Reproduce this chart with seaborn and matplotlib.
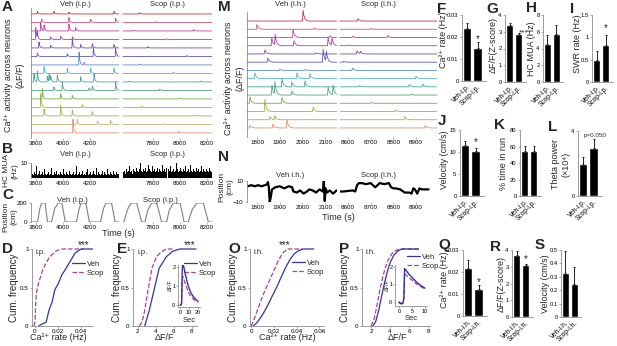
import numpy as np
import matplotlib
matplotlib.use('Agg')
import matplotlib.pyplot as plt
import seaborn as sns

sns.set_theme(style='white')
plt.rcParams['font.family'] = ['Liberation Sans', 'DejaVu Sans']

# ---------------- data ----------------
trace_colors = ['#c8323c', '#d0506e', '#c040a0', '#a444b0', '#7c4aa8', '#5c58b8', '#5a8ad0',
                '#50b0d8', '#40a8a0', '#4fa878', '#6cb050', '#94b840', '#a8b050', '#c4b070', '#e09070']

# (time s, amplitude in trace spacings) for each neuron
a_veh_events = [
    [(3810, 0.3), (3933, 0.3), (4044, 0.2), (4378, 0.3)],
    [(3842, 0.4), (4044, 0.6), (4205, 0.4), (4390, 0.5)],
    [(3835, 1.0), (3860, 0.7), (4044, 0.8), (4094, 0.4)],
    [(3798, 1.4), (3810, 0.8), (3909, 0.3), (3983, 0.4), (4069, 0.3)],
    [(3822, 0.7), (3909, 0.3), (4069, 1.0), (4131, 0.4), (4217, 0.5), (4378, 0.4)],
    [(3810, 0.4), (4032, 0.3), (4225, 1.0), (4390, 1.0)],
    [(4119, 1.5), (4156, 0.3)],
    [(3860, 0.8), (4032, 0.6), (4205, 0.6), (4378, 0.6)],
    [(3785, 1.0), (3810, 1.3), (3884, 0.7), (3897, 0.8), (3909, 0.6), (3958, 0.8), (4131, 0.6), (4230, 1.0)],
    [(3933, 0.4), (3995, 1.0), (4193, 0.3), (4217, 0.5), (4390, 1.0)],
    [(3847, 1.2), (3983, 0.6), (4069, 0.4)],
    [(3835, 1.6), (4143, 0.3)],
    [(3860, 0.8), (3983, 1.2), (4069, 0.7), (4217, 0.5)],
    [(4106, 0.6), (4255, 0.4), (4353, 0.5)],
    [(4074, 1.6)],
]
a_scop_events = [
    [(7700, 0.15)], [(7820, 0.1)], [(7650, 0.1), (8100, 0.15)], [(7900, 0.1)],
    [(7760, 0.15)], [(8050, 0.1)], [(7700, 0.1)], [(7950, 0.15)], [(7620, 0.1), (8150, 0.1)],
    [(7850, 0.15)], [(8000, 0.1)], [(7720, 0.15)], [(8120, 0.1)], [(7880, 0.1)], [(7990, 0.15)],
]
m_veh_events = [
    [(2003, 1.3)],
    [(1800, 0.6), (2050, 0.15)],
    [(1959, 1.0), (2120, 0.2)],
    [(1865, 1.0), (1880, 1.3), (1963, 0.6), (2113, 1.0), (2130, 0.9)],
    [(1835, 0.5), (2060, 0.15)],
    [(1848, 0.5), (2091, 1.6), (2105, 1.2)],
    [(1900, 0.15), (2010, 0.1)],
    [(1791, 0.7), (1976, 0.7), (2033, 0.6)],
    [(1910, 1.0), (1954, 0.6), (2011, 0.7)],
    [(1866, 1.2), (1879, 1.5), (1954, 0.5), (2113, 1.0), (2135, 1.2)],
    [(1769, 0.8), (1910, 0.7)],
    [(1835, 1.5), (2047, 0.5)],
    [(1857, 0.4), (1879, 0.5)],
    [(1769, 0.3), (1870, 0.5), (1932, 1.0)],
]
m_scop_events = [
    [(8644, 0.3)], [(8700, 0.1)], [(8620, 0.15), (8775, 0.25)], [(8600, 0.1)],
    [(8640, 0.4), (8655, 0.3)], [(8580, 0.1)], [(8620, 0.3)], [(8900, 0.3)],
    [(8650, 0.15), (8870, 0.3), (8930, 0.35)], [(8880, 0.1)], [(8700, 0.1)],
    [(8810, 0.2)], [(8850, 0.4)], [(8940, 0.3)],
]

# HC MUA (Hz)
mua_veh = [9, 3, 2, 4, 3, 8, 2, 3, 5, 2, 3, 4, 2, 6, 3, 2, 3, 4, 2, 3, 7, 2, 3, 2, 4, 3, 5, 2, 3, 2,
           4, 3, 2, 6, 3, 2, 4, 3, 2, 5, 3, 2, 3, 4, 2, 3, 8, 2, 3, 4, 2, 3, 5, 2, 3, 2, 4, 6, 2, 3,
           4, 2, 3, 5, 3, 2, 7, 3, 2, 4, 3, 2, 3, 5, 2, 4, 3, 2, 6, 3, 2, 4, 3, 2, 5, 3, 2, 4, 3, 3]
mua_scop = [4, 5, 3, 6, 4, 5, 8, 4, 5, 3, 6, 5, 4, 7, 5, 4, 6, 10, 5, 4, 6, 5, 7, 4, 5, 9, 6, 5, 4, 8,
            5, 6, 4, 5, 7, 4, 6, 5, 4, 9, 5, 6, 4, 7, 5, 4, 6, 5, 8, 4, 5, 6, 4, 5, 10, 6, 4, 5, 7, 5,
            4, 6, 5, 8, 4, 5, 6, 4, 9, 5, 4, 6, 5, 4, 7, 5, 6, 4, 5, 8, 4, 6, 5, 4, 6, 5, 4, 7, 5, 4]

# position on track (cm)
c_veh_t = [3763, 3800, 3812, 3828, 3842, 3868, 3885, 3915, 3940, 3948, 3965, 3992, 4017,
           4100, 4118, 4134, 4170, 4195, 4278, 4300, 4318, 4360, 4386, 4415]
c_veh_v = [0, 0, 0, 140, 200, 200, 0, 0, 150, 160, 200, 200, 0,
           0, 130, 200, 200, 0, 0, 140, 200, 200, 0, 0]
c_scop_t = [7578, 7585, 7600, 7620, 7642, 7679, 7700, 7716, 7741, 7760, 7790, 7827, 7850, 7864,
            7901, 7920, 7950, 8000, 8018, 8030, 8061, 8090, 8124, 8173, 8195, 8210, 8237]
c_scop_v = [0, 0, 80, 160, 200, 200, 90, 0, 0, 120, 200, 200, 80, 0,
            0, 120, 200, 200, 90, 0, 0, 130, 200, 200, 80, 0, 0]

# position (i.h. session)
n_veh_t = [1752, 1760, 1775, 1790, 1805, 1820, 1835, 1845, 1848, 1852, 1856, 1860, 1866, 1880, 1900,
           1920, 1940, 1955, 1960, 1975, 1990, 2005, 2020, 2030, 2045, 2060, 2075, 2090, 2094, 2098,
           2102, 2108, 2120, 2135, 2150]
n_veh_v = [6, 5, 6, 5, 6, 5, 6, 7, 9, 4, -10, -6, 2, 4, 5, 3, 5, 4, 0, -1, 1, -2, 0, 2, 1, -1, 2, 0,
           10, -9, 3, -1, 1, -2, 1]
n_scop_t = [8566, 8580, 8600, 8620, 8632, 8640, 8648, 8660, 8680, 8700, 8720, 8740, 8760, 8780,
            8790, 8800, 8810, 8830, 8850, 8870, 8880, 8888, 8895, 8905, 8915, 8925, 8940, 8955]
n_scop_v = [0, 0, 0.5, 1, 0, 6, 8, 8, 7, 8, 4, 8, 7, 8, 4, 3, 3, 2, -1, -1, -2, 3, 2, -2, 3, 2, 2, 2]

# cumulative distributions
d_veh_x = [0.0033, 0.0054, 0.0097, 0.0121, 0.015, 0.0172, 0.0202, 0.0232, 0.0262, 0.0306, 0.035, 0.040, 0.050]
d_veh_y = [0, 0.02, 0.05, 0.2, 0.32, 0.47, 0.55, 0.66, 0.73, 0.84, 0.95, 1.0, 1.0]
d_scop_x = [-0.001, 0, 0.0005, 0.001, 0.002, 0.004, 0.0065, 0.009, 0.012, 0.015, 0.018, 0.021, 0.024, 0.042]
d_scop_y = [0, 0.05, 0.25, 0.4, 0.5, 0.6, 0.72, 0.8, 0.88, 0.93, 0.97, 0.99, 1.0, 1.0]

e_veh_x = [2.8, 3.3, 3.9, 4.4, 5.2, 5.9, 6.7, 8.5]
e_veh_y = [0, 0.2, 0.5, 0.75, 0.9, 0.97, 1.0, 1.0]
e_scop_x = [2.2, 2.5, 2.8, 3.0, 3.3, 3.6, 4.1, 4.6, 5.2, 6.0]
e_scop_y = [0, 0.05, 0.2, 0.35, 0.55, 0.75, 0.9, 0.96, 1.0, 1.0]
ins_e_t = [0, 1, 1.8, 2.5, 3, 4, 6, 8, 10, 12, 14, 16, 18, 20]
ins_e_veh = [0, 0, 0.1, 1.8, 2.2, 2.05, 1.6, 1.2, 0.9, 0.65, 0.5, 0.38, 0.28, 0.2]
ins_e_scop = [0, 0, 0.1, 1.3, 1.5, 1.4, 1.1, 0.85, 0.6, 0.45, 0.35, 0.27, 0.2, 0.15]

o_veh_x = [0.002, 0.005, 0.008, 0.011, 0.014, 0.017, 0.020, 0.023, 0.026, 0.030, 0.034, 0.038, 0.042, 0.046, 0.055]
o_veh_y = [0, 0.04, 0.1, 0.17, 0.25, 0.34, 0.43, 0.52, 0.62, 0.75, 0.86, 0.94, 0.98, 1.0, 1.0]
o_scop_x = [0, 0.002, 0.005, 0.008, 0.011, 0.014, 0.017, 0.020, 0.024, 0.028, 0.032, 0.045]
o_scop_y = [0, 0.06, 0.18, 0.3, 0.42, 0.52, 0.62, 0.72, 0.85, 0.95, 1.0, 1.0]

p_veh_x = [2.2, 2.5, 2.8, 3.1, 3.4, 3.7, 4.0, 4.4, 4.8, 5.2, 7.0]
p_veh_y = [0, 0.06, 0.2, 0.38, 0.55, 0.7, 0.82, 0.92, 0.97, 1.0, 1.0]
p_scop_x = [2.0, 2.3, 2.6, 2.9, 3.2, 3.5, 3.8, 4.2, 4.6, 5.0, 7.0]
p_scop_y = [0, 0.08, 0.25, 0.45, 0.62, 0.76, 0.86, 0.94, 0.98, 1.0, 1.0]
ins_p_t = [0, 0.5, 1, 1.5, 1.9, 2.2, 3, 4, 5, 6, 7, 8, 9, 10]
ins_p_veh = [0, -0.1, -0.1, -0.1, 0.2, 1.9, 1.75, 1.55, 1.4, 1.25, 1.1, 0.98, 0.88, 0.78]
ins_p_scop = [0, -0.05, -0.05, -0.05, 0.2, 1.6, 1.5, 1.35, 1.25, 1.12, 1.0, 0.9, 0.82, 0.75]

# bar summaries: mean, sem
ip_labels = ['Veh-i.p.', 'Scop-i.p.']
ih_labels = ['Veh-i.h.', 'Scop-i.h.']
f_mean, f_err = [0.024, 0.0148], [0.0022, 0.0028]
g_mean, g_err = [3.38, 2.88], [0.12, 0.06]
h_mean, h_err = [4.5, 5.7], [1.1, 1.1]
i_mean, i_err = [0.5, 0.83], [0.19, 0.23]
j_mean, j_err = [11.6, 10.2], [0.9, 0.8]
k_mean, k_err = [54, 54], [7, 7]
l_mean, l_err = [2.0, 2.95], [0.4, 0.55]
q_mean, q_err = [0.022, 0.0125], [0.0035, 0.0015]
r_mean, r_err = [3.72, 3.08], [0.25, 0.08]
s_mean, s_err = [0.33, 0.245], [0.16, 0.13]

VEH_C = '#34349a'
SCOP_C = '#b03c9c'
GREY = '#8c8c8c'

# ---------------- figure ----------------
W, H = 617, 346
fig = plt.figure(figsize=(W / 100, H / 100), dpi=100)


def px_axes(x, y, w, h):
    return fig.add_axes([x / W, 1 - (y + h) / H, w / W, h / H])


def px_text(x, y, s, **kw):
    kw.setdefault('ha', 'center')
    kw.setdefault('va', 'center')
    fig.text(x / W, 1 - y / H, s, **kw)


def style(ax, left=True, bottom=True, ls=4.5):
    ax.set_facecolor('none')
    for s in ['top', 'right']:
        ax.spines[s].set_visible(False)
    ax.spines['left'].set_visible(left)
    ax.spines['bottom'].set_visible(bottom)
    for s in ['left', 'bottom']:
        ax.spines[s].set_color(GREY)
        ax.spines[s].set_linewidth(0.6)
    ax.tick_params(length=1.5, width=0.5, pad=1, labelsize=ls, colors=GREY, labelcolor='black',
                   left=left, bottom=True)
    ax.set_xlabel('')
    ax.set_ylabel('')


kern_t = [-3, 0, 3, 8, 15, 25]
kern_v = [0, 1, 0.55, 0.25, 0.08, 0]


def traces(ax, t0, t1, events, colors):
    grid = np.arange(t0, t1, 1.0)
    for i, ev in enumerate(events):
        y = np.zeros_like(grid)
        for te, a in ev:
            y = y + a * np.interp(grid - te, kern_t, kern_v, left=0, right=0)
        ax.plot(grid, y - i, color=colors[i], lw=0.6, clip_on=False)


# ---- A ----
for (x0, w, t0, t1, ev, ticks) in [(31, 88, 3763, 4415, a_veh_events, [3800, 4000, 4200]),
                                   (123, 89, 7578, 8237, a_scop_events, [7800, 8000, 8200])]:
    ax = px_axes(x0, 8, w, 130)
    traces(ax, t0, t1, ev, trace_colors)
    ax.set_xlim(t0, t1)
    ax.set_ylim(-14.6, 0.7)
    style(ax, left=(x0 == 31), bottom=False)
    ax.set_yticks([])
    ax.set_xticks(ticks)
px_text(75, 5, 'Veh (i.p.)', fontsize=5.5)
px_text(167, 5, 'Scop (i.p.)', fontsize=5.5)
px_text(14, 75, 'Ca²⁺ activity across neurons\n(ΔF/F)', fontsize=6.5, rotation=90, linespacing=1.3)

# ---- M ----
m_colors = [trace_colors[i] for i in [0, 1, 2, 3, 4, 5, 6, 7, 8, 9, 10, 11, 12, 14]]
for (x0, w, t0, t1, ev, ticks) in [(247, 90, 1756, 2152, m_veh_events, [1800, 1900, 2000, 2100]),
                                   (340, 97, 8565, 8992, m_scop_events, [8600, 8700, 8800, 8900])]:
    ax = px_axes(x0, 12, w, 125)
    traces(ax, t0, t1, ev, m_colors)
    ax.set_xlim(t0, t1)
    ax.set_ylim(-14.1, 1.1)
    style(ax, left=(x0 == 247), bottom=False)
    ax.set_yticks([])
    ax.set_xticks(ticks)
px_text(290, 5, 'Veh (i.h.)', fontsize=5.5)
px_text(378, 5, 'Scop (i.h.)', fontsize=5.5)
px_text(234, 78, 'Ca²⁺ activity across neurons\n(ΔF/F)', fontsize=6.5, rotation=90, linespacing=1.3)

# ---- B ----
for (x0, w, t0, t1, vals, ticks) in [(31, 88, 3763, 4415, mua_veh, [3800, 4000, 4200]),
                                     (123, 89, 7578, 8237, mua_scop, [7800, 8000, 8200])]:
    ax = px_axes(x0, 163, w, 15)
    bw = (t1 - t0) / len(vals)
    ax.bar(t0 + bw * (np.arange(len(vals)) + 0.5), vals, width=bw, color='black', linewidth=0)
    ax.set_xlim(t0, t1)
    ax.set_ylim(0, 10)
    style(ax, left=(x0 == 31), bottom=False)
    ax.set_yticks([10] if x0 == 31 else [])
    ax.set_xticks(ticks)
px_text(75, 155, 'Veh (i.p.)', fontsize=5.5)
px_text(167, 155, 'Scop (i.p.)', fontsize=5.5)
px_text(11, 171, 'HC MUA\n(Hz)', fontsize=6, rotation=90, linespacing=1.2)

# ---- C ----
for (x0, w, t0, t1, ct, cv, ticks) in [(31, 88, 3763, 4415, c_veh_t, c_veh_v, [3800, 4000, 4200]),
                                       (123, 89, 7578, 8237, c_scop_t, c_scop_v, [7800, 8000, 8200])]:
    ax = px_axes(x0, 203, w, 19)
    sns.lineplot(x=ct, y=cv, ax=ax, color='#808080', lw=0.8, sort=False, estimator=None)
    ax.set_xlim(t0, t1)
    ax.set_ylim(0, 200)
    style(ax, left=(x0 == 31), bottom=False)
    ax.set_yticks([0, 200] if x0 == 31 else [])
    ax.set_xticks(ticks)
px_text(72, 200, 'Veh (i.p.)', fontsize=5.5)
px_text(160, 200, 'Scop (i.p.)', fontsize=5.5)
px_text(9.5, 217, 'Position\n(cm)', fontsize=6, rotation=90, linespacing=1.2)
px_text(118, 233, 'Time (s)', fontsize=6.5)

# ---- N ----
for (x0, w, t0, t1, nt, nv, ticks) in [(247, 90, 1756, 2152, n_veh_t, n_veh_v, [1800, 1900, 2000, 2100]),
                                       (340, 97, 8565, 8992, n_scop_t, n_scop_v, [8600, 8700, 8800, 8900])]:
    ax = px_axes(x0, 181, w, 21)
    sns.lineplot(x=nt, y=nv, ax=ax, color='black', lw=1.6, sort=False, estimator=None)
    ax.set_xlim(t0, t1)
    ax.set_ylim(-10, 10)
    style(ax, left=(x0 == 247), bottom=False)
    ax.set_yticks([-10, 10] if x0 == 247 else [])
    ax.set_xticks(ticks)
px_text(290, 175, 'Veh i.h.)', fontsize=5.5)
px_text(378, 175, 'Scop (i.h.)', fontsize=5.5)
px_text(226, 187, 'Position\n(cm)', fontsize=6, rotation=90, linespacing=1.2)
px_text(338, 218, 'Time (s)', fontsize=6.5)


# ---- CDF panels ----
def cdf_panel(box, vx, vy, sx, sy, xlim, xticks, xtl, tag, stars, leg_xy, ylab_x, xlab, xlab_x):
    ax = px_axes(*box)
    sns.lineplot(x=sx, y=sy, ax=ax, color=SCOP_C, lw=0.9, linestyle='--', sort=False,
                 estimator=None, label='Scop')
    sns.lineplot(x=vx, y=vy, ax=ax, color=VEH_C, lw=0.9, sort=False, estimator=None, label='Veh')
    ax.set_xlim(*xlim)
    ax.set_ylim(0, 1)
    style(ax)
    ax.set_xticks(xticks)
    ax.set_xticklabels(xtl)
    ax.set_yticks([0, 0.5, 1])
    ax.set_yticklabels(['0', '0.5', '1'])
    for ln in ax.lines:
        ln.set_clip_on(False)
    h, l = ax.get_legend_handles_labels()
    ax.legend(h[::-1], l[::-1], frameon=False, fontsize=5.5, handlelength=1.7, handletextpad=0.3,
              labelspacing=0.15, borderpad=0, loc='upper left',
              bbox_to_anchor=(leg_xy[0] / W, 1 - leg_xy[1] / H), bbox_transform=fig.transFigure)
    px_text(box[0] + 4, 252, tag, fontsize=5.5, ha='left')
    if stars:
        px_text(stars, 245, '***', fontsize=7)
    px_text(ylab_x, 288, 'Cum. frequency', fontsize=7, rotation=90)
    px_text(xlab_x, 338, xlab, fontsize=6.5)
    return ax


cdf_panel((32, 249, 61, 77), d_veh_x, d_veh_y, d_scop_x, d_scop_y, (-0.0026, 0.0504),
          [0, 0.02, 0.04], ['0', '0.02', '0.04'], 'i.p.', 84, (68, 257), 14, 'Ca²⁺ rate (Hz)', 58)
cdf_panel((133, 249, 64, 77), e_veh_x, e_veh_y, e_scop_x, e_scop_y, (1.5, 8.6),
          [2, 4, 6, 8], ['2', '4', '6', '8'], 'i.p.', 190, (180, 257), 117, 'ΔF/F', 165)
cdf_panel((250, 249, 74, 77), o_veh_x, o_veh_y, o_scop_x, o_scop_y, (-0.0009, 0.064),
          [0, 0.02, 0.04, 0.06], ['0', '0.02', '0.04', '0.06'], 'i.h.', 285, (288, 256), 233,
          'Ca²⁺ rate (Hz)', 287)
cdf_panel((362, 249, 68, 77), p_veh_x, p_veh_y, p_scop_x, p_scop_y, (1.05, 8.2),
          [2, 4, 6, 8], ['2', '4', '6', '8'], 'i.h.', None, (403, 250), 345, 'ΔF/F', 397)


def inset(box, t, veh, scop, xlim, ylim, xticks, xlab_y):
    ax = px_axes(*box)
    sns.lineplot(x=t, y=scop, ax=ax, color=SCOP_C, lw=0.9, linestyle='--', sort=False, estimator=None)
    sns.lineplot(x=t, y=veh, ax=ax, color=VEH_C, lw=1.0, sort=False, estimator=None)
    ax.set_xlim(*xlim)
    ax.set_ylim(*ylim)
    style(ax, ls=4.0)
    ax.tick_params(pad=0.5)
    ax.set_xticks(xticks)
    ax.set_yticks([0, 1, 2])
    px_text(box[0] - 7.5, box[1] + 20, 'ΔF/F', fontsize=4.0, rotation=90)
    px_text(box[0] + box[2] / 2, xlab_y, 'Sec', fontsize=5.5)


inset((178, 265, 22, 42), ins_e_t, ins_e_veh, ins_e_scop, (-2.2, 22.2), (-0.1, 2.1), [0, 10, 20], 320)
inset((395, 265, 32, 41), ins_p_t, ins_p_veh, ins_p_scop, (-1.5, 10.8), (-0.23, 2.1), [0, 5, 10], 318)


# ---- bar panels ----
def bar_panel(box, labels, means, errs, ylim, yticks, ytl, ylab, ylab_xy, star=None):
    ax = px_axes(*box)
    sns.barplot(x=labels, y=means, ax=ax, color='black', saturation=1, width=0.8)
    ax.errorbar([0, 1], means, yerr=[[0, 0], errs], fmt='none', ecolor='black',
                elinewidth=0.6, capsize=1.0, capthick=0.6)
    ax.set_xlim(-0.5, 1.8)
    ax.set_ylim(*ylim)
    style(ax, ls=4.2)
    ax.tick_params(axis='x', length=0, pad=1.5)
    ax.set_yticks(yticks)
    ax.set_yticklabels(ytl)
    ax.set_xticks([0, 1])
    ax.set_xticklabels(labels, rotation=45, ha='right', rotation_mode='anchor', fontsize=4.8)
    px_text(ylab_xy[0], ylab_xy[1], ylab, fontsize=6.5, rotation=90, linespacing=1.2)
    if star:
        ax.text(star[1], star[2], star[0], fontsize=star[3] if len(star) > 3 else 7,
                ha='center', va='center')
    return ax


bar_panel((462, 15, 24, 66), ip_labels, f_mean, f_err, (0, 0.03), [0, 0.01, 0.02, 0.03],
          ['0', '0.01', '0.02', '0.03'], 'Ca²⁺ rate (Hz)', (444, 40), ('*', 1.05, 0.019))
bar_panel((505, 15, 21, 67), ip_labels, g_mean, g_err, (0, 4), [0, 1, 2, 3, 4],
          ['0', '1', '2', '3', '4'], 'ΔF/F(Z-score)', (493, 45), ('***', 1.55, 2.95, 6))
bar_panel((543, 15, 20, 67), ip_labels, h_mean, h_err, (0, 8), [0, 2, 4, 6, 8],
          ['0', '2', '4', '6', '8'], 'HC MUA (Hz)', (532, 49))
bar_panel((592, 15, 21, 67), ip_labels, i_mean, i_err, (0, 1.5), [0, 0.5, 1, 1.5],
          ['0', '0.5', '1', '1.5'], 'SWR rate (Hz)', (577, 44), ('*', 1.05, 1.2))
bar_panel((460, 130, 24, 66), ip_labels, j_mean, j_err, (0, 15), [0, 5, 10, 15],
          ['0', '5', '10', '15'], 'Velocity (cm/s)', (445, 160), ('*', 1.05, 12.3))
bar_panel((520, 130, 21, 66), ip_labels, k_mean, k_err, (0, 80), [0, 20, 40, 60, 80],
          ['0', '20', '40', '60', '80'], '% time in run', (503, 164))
axl = bar_panel((578, 131, 24, 65), ip_labels, l_mean, l_err, (0, 4), [0, 4],
                ['0', '4'], 'Theta power\n(×10⁴)', (561, 164))
axl.text(0.05, 3.7, 'p=0.050', fontsize=4.5, ha='left', va='center')
bar_panel((463, 250, 24, 66), ih_labels, q_mean, q_err, (0, 0.03), [0, 0.01, 0.02, 0.03],
          ['0', '0.01', '0.02', '0.03'], 'Ca²⁺ rate (Hz)', (445, 280), ('*', 1.05, 0.0155))
bar_panel((512, 250, 21, 67), ih_labels, r_mean, r_err, (0, 4), [0, 1, 2, 3, 4],
          ['0', '1', '2', '3', '4'], 'ΔF/F(Z-score)', (501, 284), ('*', 1.05, 3.45))
bar_panel((561, 250, 20, 67), ih_labels, s_mean, s_err, (0, 0.5), [0, 0.1, 0.2, 0.3, 0.4, 0.5],
          ['0', '0.1', '0.2', '0.3', '0.4', '0.5'], 'Velocity (cm/s)', (546, 284))

# ---- panel letters ----
letters = [('A', 2, 0), ('B', 2, 142), ('C', 2, 188), ('D', 2, 242), ('E', 117, 242), ('O', 228, 242),
           ('P', 339, 242), ('M', 218, 0), ('N', 218, 150), ('F', 437, 2), ('G', 486, 2), ('H', 526, 1),
           ('I', 570, 2), ('J', 438, 114), ('K', 494, 118), ('L', 548, 120), ('Q', 438, 238),
           ('R', 490, 240), ('S', 535, 238)]
for s, x, y in letters:
    px_text(x, y, s, fontsize=11, fontweight='bold', ha='left', va='top')

fig.savefig('out.png', dpi=100)
